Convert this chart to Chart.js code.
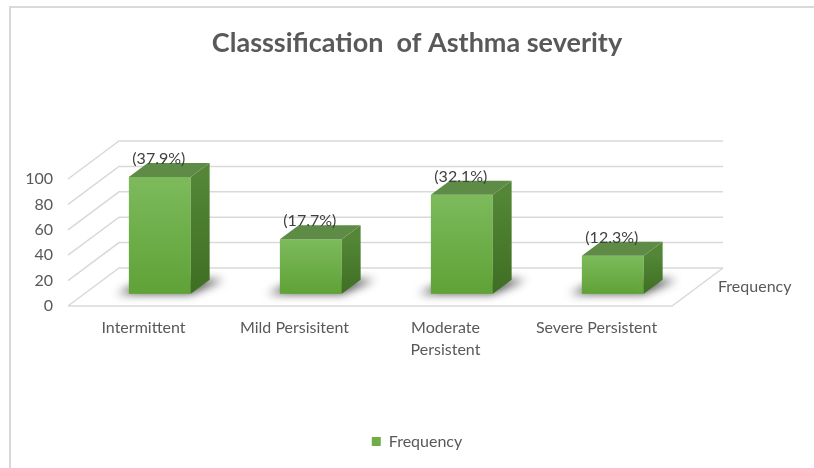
<!DOCTYPE html>
<html>
<head>
<meta charset="utf-8">
<script src="https://cdn.jsdelivr.net/npm/chart.js@4.4.1/dist/chart.umd.min.js"></script>
<style>
  html, body { margin: 0; padding: 0; background: #fff; }
  #wrap { width: 814px; height: 468px; }
</style>
</head>
<body>
<div id="wrap"><canvas id="chart"></canvas></div>
<script>
const categories = ['Intermittent', 'Mild Persisitent', ['Moderate', 'Persistent'], 'Severe Persistent'];
const frequency = [92, 43, 78, 30];
const percentLabels = ['(37.9%)', '(17.7%)', '(32.1%)', '(12.3%)'];
const yMin = 0, yMax = 100, yStep = 20;

const FONT = 'Lato, "Open Sans", sans-serif';
const TEXT = '#595959';

// full depth of the 3d box, and where the bars sit inside it
const DEPTH_X = 51, DEPTH_Y = -38;
const BAR_AT = 0.32, BAR_DEPTH = 0.37;

const frame = {
    id: 'frame',
    beforeDraw(chart) {
        const ctx = chart.ctx;
        ctx.save();
        ctx.fillStyle = '#fff';
        ctx.fillRect(0, 0, chart.width, chart.height);
        ctx.strokeStyle = '#d9d9d9';
        ctx.lineWidth = 2;
        ctx.beginPath();
        ctx.moveTo(10, chart.height);
        ctx.lineTo(10, 7);
        ctx.lineTo(chart.width, 7);
        ctx.stroke();
        ctx.restore();
    }
};

const box3d = {
    id: 'box3d',
    beforeDatasetsDraw(chart) {
        const ctx = chart.ctx, ca = chart.chartArea, ys = chart.scales.y;
        ctx.save();

        // walls
        ctx.strokeStyle = '#d9d9d9';
        ctx.lineWidth = 1.5;
        ys.ticks.forEach(t => {
            const py = ys.getPixelForValue(t.value);
            ctx.beginPath();
            ctx.moveTo(ca.left, py);
            ctx.lineTo(ca.left + DEPTH_X, py + DEPTH_Y);
            ctx.lineTo(ca.right + DEPTH_X, py + DEPTH_Y);
            ctx.stroke();
        });
        const y0 = ys.getPixelForValue(0);
        ctx.beginPath();
        ctx.moveTo(ca.left, y0);
        ctx.lineTo(ca.right, y0);
        ctx.lineTo(ca.right + DEPTH_X, y0 + DEPTH_Y);
        ctx.stroke();

        // series name on the depth axis
        ctx.fillStyle = TEXT;
        ctx.font = '16px ' + FONT;
        ctx.textAlign = 'left';
        ctx.textBaseline = 'middle';
        ctx.fillText(chart.data.datasets[0].label, ca.right + DEPTH_X - 5, y0 + DEPTH_Y / 2);

        const ox = DEPTH_X * BAR_AT, oy = DEPTH_Y * BAR_AT;
        const bx = DEPTH_X * BAR_DEPTH, by = DEPTH_Y * BAR_DEPTH;

        chart.getDatasetMeta(0).data.forEach((bar, i) => {
            const p = bar.getProps(['x', 'y', 'base', 'width'], true);
            const l = p.x - p.width / 2 + ox, r = p.x + p.width / 2 + ox;
            const t = p.y + oy, b = p.base + oy;

            // soft shadow on the floor
            ctx.save();
            ctx.filter = 'blur(5px)';
            ctx.fillStyle = 'rgba(0,0,0,0.7)';
            ctx.beginPath();
            ctx.moveTo(l - 12, b);
            ctx.lineTo(r, b);
            ctx.lineTo(r + bx + 14, b + by);
            ctx.lineTo(l + bx, b + by);
            ctx.closePath();
            ctx.fill();
            ctx.restore();

            const gf = ctx.createLinearGradient(0, t, 0, b);
            gf.addColorStop(0, '#7dba5c');
            gf.addColorStop(1, '#5fa236');
            ctx.fillStyle = gf;
            ctx.fillRect(l, t, r - l, b - t);

            const gs = ctx.createLinearGradient(0, t, 0, b);
            gs.addColorStop(0, '#538637');
            gs.addColorStop(1, '#3e6e22');
            ctx.fillStyle = gs;
            ctx.beginPath();
            ctx.moveTo(r, t);
            ctx.lineTo(r + bx, t + by);
            ctx.lineTo(r + bx, b + by);
            ctx.lineTo(r, b);
            ctx.closePath();
            ctx.fill();

            ctx.fillStyle = '#5e8b45';
            ctx.beginPath();
            ctx.moveTo(l, t);
            ctx.lineTo(r, t);
            ctx.lineTo(r + bx, t + by);
            ctx.lineTo(l + bx, t + by);
            ctx.closePath();
            ctx.fill();

            ctx.fillStyle = '#404040';
            ctx.font = '16px ' + FONT;
            ctx.textAlign = 'center';
            ctx.textBaseline = 'middle';
            ctx.fillText(percentLabels[i], (l + r) / 2 - 1, t - 18);
        });

        ctx.restore();
        return false;
    }
};

new Chart(document.getElementById('chart'), {
    type: 'bar',
    data: {
        labels: categories,
        datasets: [{
            label: 'Frequency',
            data: frequency,
            backgroundColor: '#70ad47',
            categoryPercentage: 1,
            barPercentage: 0.41
        }]
    },
    options: {
        responsive: true,
        maintainAspectRatio: false,
        animation: false,
        layout: { padding: { left: 20, right: 0, top: 0, bottom: 8.5 } },
        plugins: {
            title: {
                display: true,
                text: 'Classsification  of Asthma severity',
                color: TEXT,
                font: { family: FONT, size: 27, weight: 'bold' },
                padding: { top: 26.8, bottom: 119.8 }
            },
            legend: {
                position: 'bottom',
                labels: {
                    color: TEXT,
                    boxWidth: 9,
                    boxHeight: 9,
                    padding: 10,
                    font: { family: FONT, size: 16 }
                }
            },
            tooltip: { enabled: false }
        },
        scales: {
            x: {
                grid: { display: false, drawTicks: false },
                border: { display: false },
                ticks: { color: TEXT, padding: 11, maxRotation: 0, autoSkip: false, font: { family: FONT, size: 16, lineHeight: 1.375 } },
                afterFit: s => { s.height = 117.5; }
            },
            y: {
                min: yMin,
                max: yMax,
                grid: { display: false, drawTicks: false },
                border: { display: false },
                ticks: { stepSize: yStep, color: TEXT, padding: 15, font: { family: FONT, size: 16 } },
                afterFit: s => { s.width = 48; }
            },
            y2: {
                position: 'right',
                grid: { display: false, drawTicks: false },
                border: { display: false },
                ticks: { display: false },
                afterFit: s => { s.width = 142; }
            }
        }
    },
    plugins: [frame, box3d]
});
</script>
</body>
</html>
